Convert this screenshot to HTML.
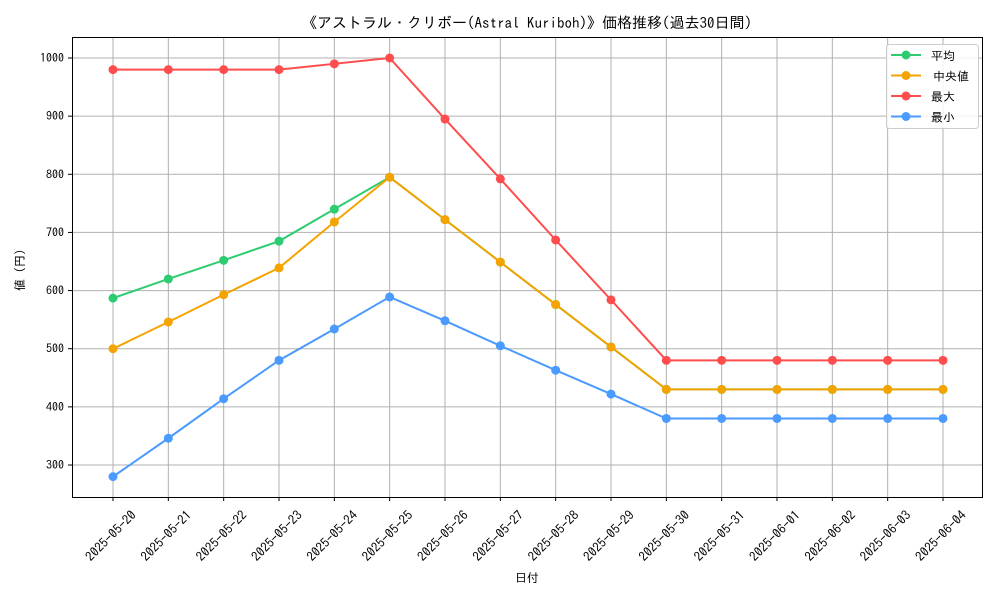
<!DOCTYPE html>
<html><head><meta charset="utf-8"><style>
body{margin:0;background:#fff;}
svg text{font-family:"IPAGothic","Liberation Sans","Noto Sans CJK JP",sans-serif;fill:#000;}
</style></head><body>
<svg id="c" width="1000" height="600" xmlns="http://www.w3.org/2000/svg">
<rect x="0" y="0" width="1000" height="600" fill="#fff"/>
<text x="527" y="28" text-anchor="middle" font-size="15">《アストラル・クリボー(Astral Kuriboh)》価格推移(過去30日間)</text>
<g id="grid"></g>
<g id="series"></g>
<rect x="72.5" y="37.5" width="910" height="460" fill="none" stroke="#000" stroke-width="1"/>
<g id="xt"></g><g id="yt"></g>
<text x="527" y="582" text-anchor="middle" font-size="12">日付</text>
<text transform="translate(24,270) rotate(-90)" text-anchor="middle" font-size="12">値 (円)</text>
<g>
<rect x="886.5" y="44.5" width="92" height="84" rx="3" fill="#fff" fill-opacity="0.85" stroke="#ccc"/>
<g id="leg"></g>
</g>
</svg>
<script>
const dates=["2025-05-20","2025-05-21","2025-05-22","2025-05-23","2025-05-24","2025-05-25","2025-05-26","2025-05-27","2025-05-28","2025-05-29","2025-05-30","2025-05-31","2025-06-01","2025-06-02","2025-06-03","2025-06-04"];
const avgVals=[587,620,652,685,740,795,722,649,576,503,430,430,430,430,430,430];
const medianVals=[500,546,593,639,718,795,722,649,576,503,430,430,430,430,430,430];
const maxVals=[980,980,980,980,990,1000,895,792,687,584,480,480,480,480,480,480];
const minVals=[280,346,414,480,534,589,548,505,463,422,380,380,380,380,380,380];
const yTicks=[300,400,500,600,700,800,900,1000];
const NS="http://www.w3.org/2000/svg";
const X=i=>113+i*(943-113)/(dates.length-1);
const Y=v=>465-(v-300)*(465-58)/700;
function mk(t,a,p){const e=document.createElementNS(NS,t);for(const k in a)e.setAttribute(k,a[k]);p.appendChild(e);return e;}
const grid=document.getElementById('grid'),xt=document.getElementById('xt'),yt=document.getElementById('yt');
dates.forEach((d,i)=>{const x=X(i);
mk('line',{x1:x,x2:x,y1:37,y2:497,stroke:'#b0b0b0','stroke-width':1},grid);
mk('line',{x1:x,x2:x,y1:497,y2:501,stroke:'#000'},xt);
const t=mk('text',{'font-size':13,'text-anchor':'middle',transform:`translate(${x+1},${539}) rotate(-45)`},xt);


t.textContent=d;});
yTicks.forEach(v=>{const y=Y(v);
mk('line',{x1:72,x2:982,y1:y,y2:y,stroke:'#b0b0b0','stroke-width':1},grid);
mk('line',{x1:68,x2:72,y1:y,y2:y,stroke:'#000'},yt);
const t=mk('text',{'font-size':12,'text-anchor':'end',x:64,y:y+4},yt);


t.textContent=v;});
const series=[["平均",avgVals,"#2ecc71","series-average"],["中央値",medianVals,"#f5a300","series-median"],["最大",maxVals,"#ff4c4c","series-max"],["最小",minVals,"#4a9aff","series-min"]];
const sg=document.getElementById('series'),lg=document.getElementById('leg');
series.forEach(([n,vals,c,name],k)=>{
const g=mk('g',{},sg);


mk('polyline',{points:vals.map((v,i)=>X(i)+','+Y(v)).join(' '),fill:'none',stroke:c,'stroke-width':2}, g);
vals.forEach((v,i)=>{const p=mk('circle',{cx:X(i),cy:Y(v),r:4.5,fill:c},g);

});
const ly=55+k*20.5;
const le=mk('g',{},lg);


mk('line',{x1:891,x2:921,y1:ly,y2:ly,stroke:c,'stroke-width':2},le);
mk('circle',{cx:906,cy:ly,r:4.5,fill:c},le);
const t=mk('text',{x:k==1?933:931,y:ly+5,'font-size':12},le);t.textContent=n;});
</script>
</body></html>
